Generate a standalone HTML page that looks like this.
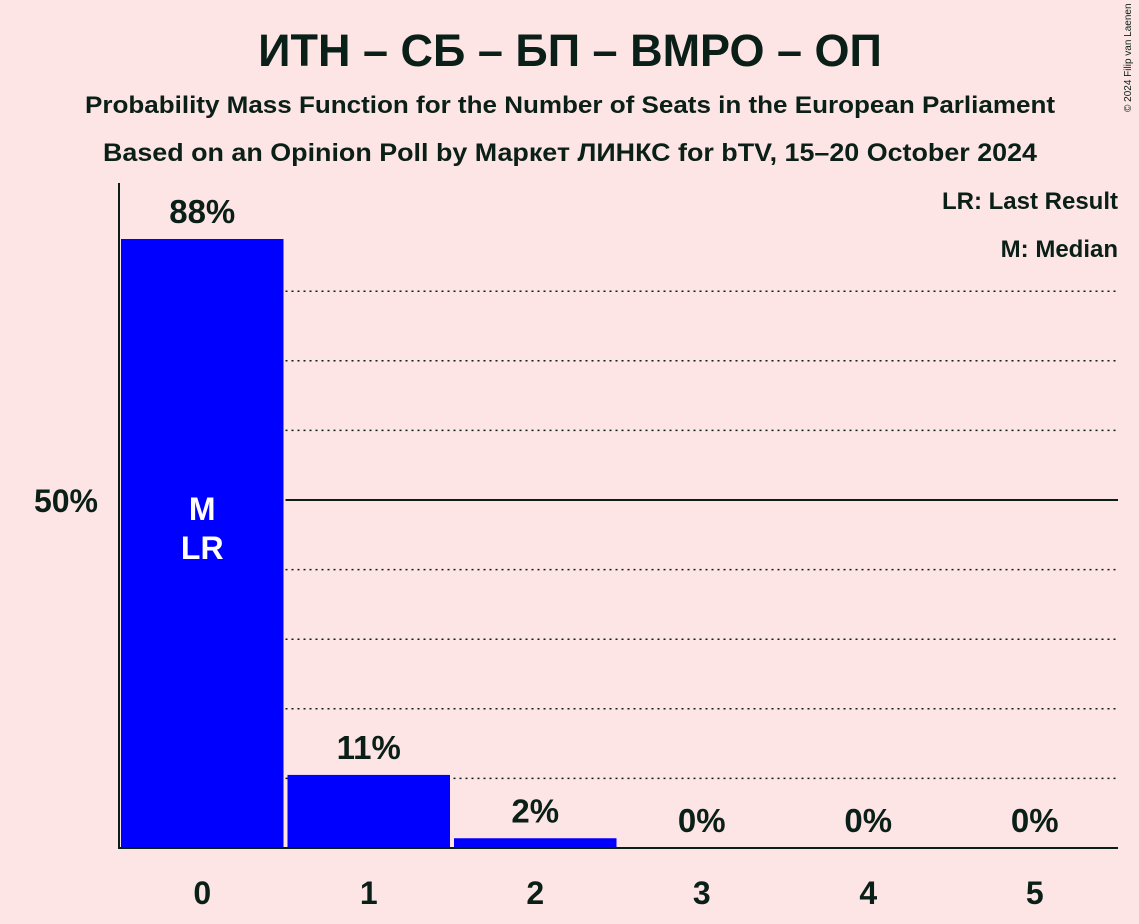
<!DOCTYPE html>
<html><head><meta charset="utf-8"><style>
html,body{margin:0;padding:0;background:#fde5e5;}
svg{display:block;font-family:"Liberation Sans",sans-serif;}
</style></head><body>
<svg id="chart" width="1139" height="924" viewBox="0 0 1139 924">
<rect width="1139" height="924" fill="#fde5e5"/>
<text x="570" y="66" text-anchor="middle" font-size="45" font-weight="bold" fill="#0a1f17">ИТН – СБ – БП – ВМРО – ОП</text>
<text x="570" y="113" text-anchor="middle" font-size="24" font-weight="bold" fill="#0a1f17" textLength="970" lengthAdjust="spacingAndGlyphs">Probability Mass Function for the Number of Seats in the European Parliament</text>
<text x="570" y="161" text-anchor="middle" font-size="25" font-weight="bold" fill="#0a1f17" textLength="934" lengthAdjust="spacingAndGlyphs">Based on an Opinion Poll by Маркет ЛИНКС for bTV, 15–20 October 2024</text>
<text x="1131" y="112" font-size="10" fill="#0a1f17" transform="rotate(-90 1131 112)">© 2024 Filip van Laenen</text>
<text x="1118" y="209" text-anchor="end" font-size="24" font-weight="bold" fill="#0a1f17">LR: Last Result</text>
<text x="1118" y="257" text-anchor="end" font-size="24" font-weight="bold" fill="#0a1f17">M: Median</text>
<g id="grid"></g>
<g id="bars"></g>
<line x1="119" y1="183" x2="119" y2="849" stroke="#0a1f17" stroke-width="2"/>
<line x1="118" y1="848" x2="1118" y2="848" stroke="#0a1f17" stroke-width="2"/>
<text x="98" y="512" text-anchor="end" font-size="32" font-weight="bold" fill="#0a1f17">50%</text>
</svg>
<script>
const categories = [0,1,2,3,4,5];
const values = [87.5,10.5,1.4,0,0,0];
const valueLabels = ["88%","11%","2%","0%","0%","0%"];
const medianIndex = 0;
const lastResultIndex = 0;
const ns="http://www.w3.org/2000/svg";
const x0=119,x1=1118,yBase=848,pxPer=6.96;
const band=(x1-x0)/categories.length;
const y=v=>yBase-v*pxPer;
const grid=document.getElementById('grid'),bars=document.getElementById('bars');
function mk(t,a,p){const e=document.createElementNS(ns,t);for(const k in a)e.setAttribute(k,a[k]);p.appendChild(e);return e;}
for(let g=10;g<=80;g+=10){
 const l=mk('line',{x1:x0+band,x2:x1,y1:y(g),y2:y(g),stroke:'#0a1f17','stroke-width':g===50?2:1.5,'stroke-dasharray':g===50?'':'2,4'},grid);
 
 
}
categories.forEach((c,i)=>{
 const bx=x0+i*band+2, bw=band-4, cx=x0+(i+0.5)*band;
 if(values[i]>0){
  const r=mk('rect',{x:bx,y:y(values[i]),width:bw,height:yBase-y(values[i]),fill:'#0000ff'},bars);
  
  
 }
 const t=mk('text',{x:cx,y:y(values[i])-16,'text-anchor':'middle','font-size':33,'font-weight':'bold',fill:'#0a1f17'},bars);
 t.textContent=valueLabels[i];
 
 
 const xt=mk('text',{x:cx,y:904,'text-anchor':'middle','font-size':32,'font-weight':'bold',fill:'#0a1f17'},bars);
 xt.textContent=c;
 
 
 if(i===medianIndex){
  const m=mk('text',{x:cx,y:520,'text-anchor':'middle','font-size':32,'font-weight':'bold',fill:'#ffffff'},bars);
  m.textContent='M';
  
  
 }
 if(i===lastResultIndex){
  const m=mk('text',{x:cx,y:559,'text-anchor':'middle','font-size':32,'font-weight':'bold',fill:'#ffffff'},bars);
  m.textContent='LR';
  
  
 }
});
</script>
</body></html>
